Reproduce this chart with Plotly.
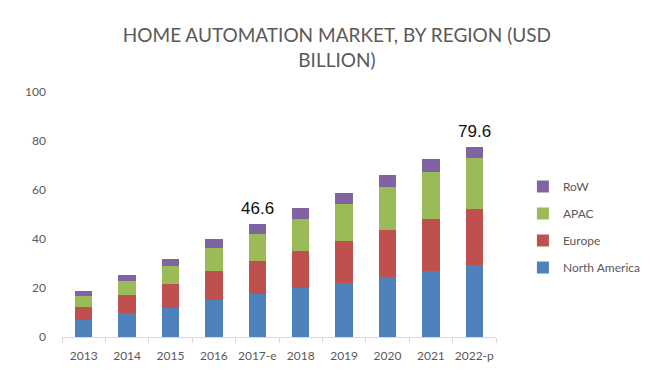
import plotly.graph_objects as go

years = ["2013", "2014", "2015", "2016", "2017-e", "2018", "2019", "2020", "2021", "2022-p"]
north_america = [7.1, 9.8, 12.0, 15.2, 17.5, 19.8, 21.9, 24.3, 26.8, 29.2]
europe = [5.3, 7.2, 9.5, 11.6, 13.6, 15.4, 17.4, 19.4, 21.2, 22.9]
apac = [4.2, 5.7, 7.3, 9.4, 11.1, 13.0, 15.0, 17.4, 19.2, 21.1]
row = [2.2, 2.7, 2.9, 3.6, 4.0, 4.4, 4.5, 4.9, 5.4, 4.5]
label_years = ["2017-e", "2022-p"]
label_texts = ["46.6", "79.6"]

series = [
    ("North America", north_america, "#4F81BD", 4),
    ("Europe", europe, "#C0504D", 3),
    ("APAC", apac, "#9BBB59", 2),
    ("RoW", row, "#8064A2", 1),
]

fig = go.Figure()
for name, vals, color, rank in series:
    fig.add_trace(go.Bar(x=years, y=vals, name=name, marker_color=color,
                         marker_line_width=0, legendgroup=name, legendrank=rank))

totals = [a + b + c + d for a, b, c, d in zip(north_america, europe, apac, row)]
for yr, txt in zip(label_years, label_texts):
    i = years.index(yr)
    fig.add_annotation(x=yr, y=totals[i], text=txt, showarrow=False,
                       yanchor="bottom", yshift=4,
                       font=dict(family="Liberation Sans, Arial", size=17, color="#111111"))

fig.update_layout(
    width=650, height=385,
    barmode="stack", bargap=0.6,
    paper_bgcolor="white", plot_bgcolor="white",
    margin=dict(l=54, r=139, t=84, b=56),
    title=dict(text="HOME AUTOMATION MARKET, BY REGION (USD<br>BILLION)",
               x=0.506, xanchor="center", y=0.912, yanchor="top",
               font=dict(family="Lato, Open Sans, sans-serif", size=19, color="#595959")),
    font=dict(family="Lato, Open Sans, sans-serif", size=12, color="#595959"),
    legend=dict(x=1.062, xanchor="left", y=0.449, yanchor="middle",
                traceorder="grouped", tracegroupgap=8,
                font=dict(size=12, color="#595959"), itemwidth=30),
    showlegend=True,
)
fig.update_xaxes(showline=True, linecolor="#D9D9D9", linewidth=1,
                 ticks="outside", tickson="boundaries", ticklen=5, tickcolor="#D9D9D9",
                 showgrid=False, tickangle=0, automargin=False, ticklabelstandoff=8,
                 tickfont=dict(size=12, color="#595959"))
fig.update_yaxes(range=[0, 100], dtick=20, showgrid=False, zeroline=False,
                 showline=False, ticks="", ticklabelstandoff=15, automargin=False,
                 tickfont=dict(size=12, color="#595959"))

fig.write_html("out.html")
